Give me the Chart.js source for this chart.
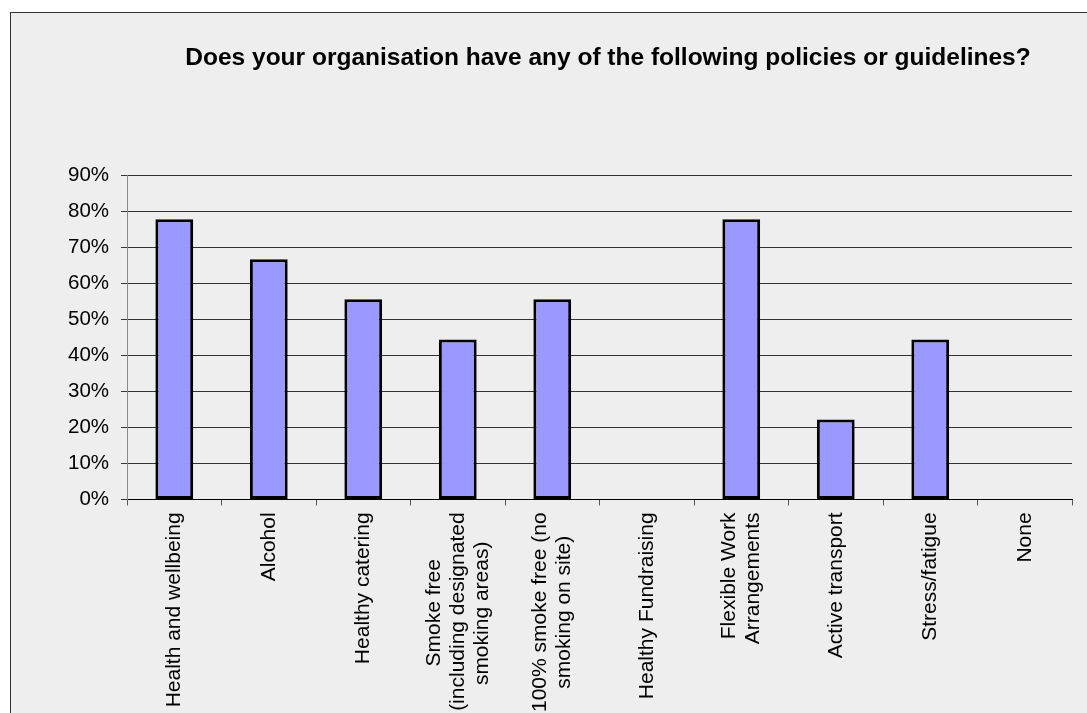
<!DOCTYPE html>
<html>
<head>
<meta charset="utf-8">
<script src="https://cdn.jsdelivr.net/npm/chart.js@4"></script>
<style>
  html, body { margin: 0; padding: 0; background: #ffffff; overflow: hidden; width: 1087px; height: 713px; }
  #frame { position: absolute; left: 10px; top: 12px; width: 1200px; height: 760px;
           background: #eeeeee; border-left: 1px solid #333; border-top: 1px solid #333; }
  #wrap { position: absolute; left: 0; top: 0; width: 1100px; height: 760px; }
</style>
</head>
<body>
<div id="frame"></div>
<div id="wrap"><canvas id="c"></canvas></div>
<script>
const chartTitle = 'Does your organisation have any of the following policies or guidelines?';
const categories = [
  ['Health and wellbeing'],
  ['Alcohol'],
  ['Healthy catering'],
  ['Smoke free', '(including designated', 'smoking areas)'],
  ['100% smoke free (no', 'smoking on site)'],
  ['Healthy Fundraising'],
  ['Flexible Work', 'Arrangements'],
  ['Active transport'],
  ['Stress/fatigue'],
  ['None']
];
const percentages = [77.8, 66.7, 55.6, 44.4, 55.6, 0, 77.8, 22.2, 44.4, 0];
const yTickValues = [0, 10, 20, 30, 40, 50, 60, 70, 80, 90];

const FONT = '"Liberation Sans", Arial, sans-serif';
const X_FONT_SIZE = 21;
const LINE_H = 24;

const measureCtx = document.createElement('canvas').getContext('2d');
measureCtx.font = X_FONT_SIZE + 'px ' + FONT;
function centreLines(lines) {
  const widths = lines.map(l => measureCtx.measureText(l).width);
  const maxW = Math.max(...widths);
  const sp = measureCtx.measureText(' ').width;
  return lines.map((l, i) => l + ' '.repeat(Math.round((maxW - widths[i]) / 2 / sp)));
}

const shiftTitle = {
  id: 'shiftTitle',
  afterLayout(chart) {
    const t = chart.titleBlock;
    if (t) { t.left += 44; t.right += 44; }
  }
};

new Chart(document.getElementById('c'), {
  type: 'bar',
  data: {
    labels: categories,
    datasets: [{
      data: percentages,
      backgroundColor: '#9999ff',
      borderColor: '#000000',
      borderWidth: 3,
      borderSkipped: false,
      barPercentage: 0.4,
      categoryPercentage: 1.0
    }]
  },
  options: {
    responsive: true,
    maintainAspectRatio: false,
    animation: false,
    layout: { padding: { left: 56, right: 28, top: 0, bottom: 41 } },
    plugins: {
      legend: { display: false },
      tooltip: { enabled: false },
      title: {
        display: true,
        text: chartTitle,
        color: '#000000',
        font: { family: FONT, size: 24.5, weight: 'bold', lineHeight: 1.2 },
        padding: { top: 44, bottom: 102 }
      }
    },
    scales: {
      x: {
        grid: { display: true, drawOnChartArea: false, drawTicks: true, tickLength: 6, color: '#555555', offset: true },
        border: { display: true, color: '#000000', width: 1 },
        ticks: {
          color: '#000000',
          minRotation: 90,
          maxRotation: 90,
          autoSkip: false,
          padding: 7,
          labelOffset: -LINE_H,
          font: (ctx) => ({
            family: FONT,
            size: X_FONT_SIZE,
            lineHeight: (categories[ctx.index] && categories[ctx.index].length === 2 ? LINE_H / 2 : LINE_H) + 'px'
          }),
          callback: function (value) {
            const lines = [].concat(this.getLabelForValue(value));
            const c = centreLines(lines);
            if (c.length === 1) return ['', c[0]];
            if (c.length === 2) return ['', c[0], '', c[1]];
            return c;
          }
        }
      },
      y: {
        min: 0,
        max: 90,
        afterBuildTicks: (scale) => { scale.ticks = yTickValues.map(v => ({ value: v })); },
        grid: { color: '#333333', lineWidth: 1, drawTicks: true, tickLength: 6 },
        border: { display: true, color: '#888888', width: 1 },
        ticks: {
          color: '#000000',
          padding: 12,
          font: { family: FONT, size: 20.5 },
          callback: (v) => v + '%'
        }
      }
    }
  },
  plugins: [shiftTitle]
});
</script>
</body>
</html>
